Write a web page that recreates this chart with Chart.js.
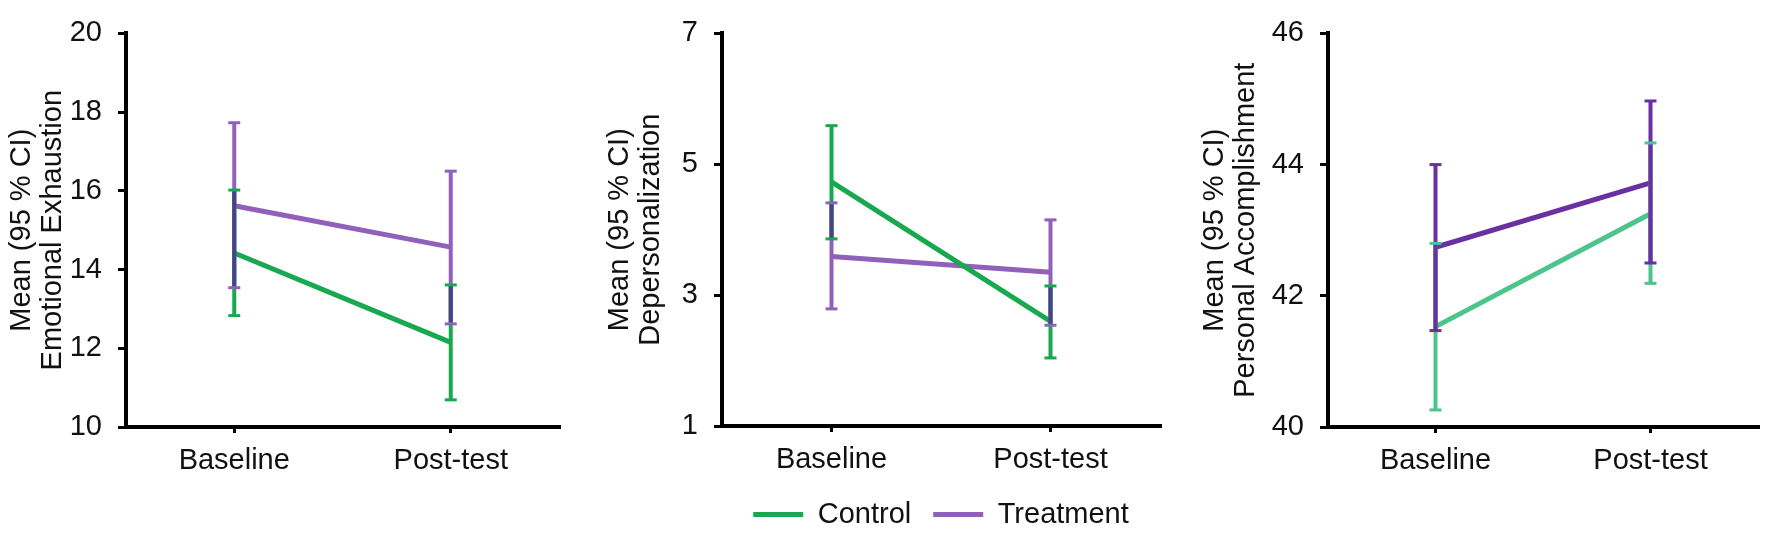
<!DOCTYPE html>
<html>
<head>
<meta charset="utf-8">
<script src="https://cdn.jsdelivr.net/npm/chart.js@4.4.1/dist/chart.umd.min.js"></script>
<style>
  body { margin: 0; background: #fff; }
  .panel { position: absolute; top: 0; height: 539px; }
</style>
</head>
<body>
<div class="panel" style="left:0px;width:580px"><canvas id="ee"></canvas></div>
<div class="panel" style="left:600px;width:580px"><canvas id="dp"></canvas></div>
<div class="panel" style="left:1180px;width:592px"><canvas id="pa"></canvas></div>
<script>
const categories = ['Baseline', 'Post-test'];
const seriesNames = ['Control', 'Treatment'];

// Emotional Exhaustion
const eeControl = [14.42, 12.15];
const eeControlLow = [12.83, 10.69];
const eeControlHigh = [16.02, 13.61];
const eeTreatment = [15.62, 14.57];
const eeTreatmentLow = [13.54, 12.62];
const eeTreatmentHigh = [17.73, 16.50];
const eeTicks = [10, 12, 14, 16, 18, 20];

// Depersonalization
const dpControl = [4.73, 2.60];
const dpControlLow = [3.86, 2.04];
const dpControlHigh = [5.59, 3.14];
const dpTreatment = [3.59, 3.35];
const dpTreatmentLow = [2.79, 2.54];
const dpTreatmentHigh = [4.41, 4.15];
const dpTicks = [1, 3, 5, 7];

// Personal Accomplishment
const paControl = [41.53, 43.25];
const paControlLow = [40.26, 42.19];
const paControlHigh = [42.80, 44.33];
const paTreatment = [42.74, 43.72];
const paTreatmentLow = [41.47, 42.50];
const paTreatmentHigh = [44.00, 44.97];
const paTicks = [40, 42, 44, 46];

Chart.defaults.font.family = '"Liberation Sans", Arial, sans-serif';
Chart.defaults.color = '#111';

// draws the 95% CI whiskers from the dataset low/high arrays
const errorBars = {
  id: 'errorBars',
  afterDatasetsDraw(chart, args, opts) {
    const ctx = chart.ctx;
    const y = chart.scales.y;
    const sets = chart.data.datasets;
    ctx.save();
    ctx.lineCap = 'butt';
    for (let i = sets.length - 1; i >= 0; i--) {
      const ds = sets[i];
      chart.getDatasetMeta(i).data.forEach((pt, j) => {
        ctx.strokeStyle = ds.borderColor;
        ctx.lineWidth = 4;
        ctx.beginPath();
        ctx.moveTo(pt.x, y.getPixelForValue(ds.high[j]));
        ctx.lineTo(pt.x, y.getPixelForValue(ds.low[j]));
        ctx.stroke();
      });
    }
    // part where both intervals overlap
    chart.getDatasetMeta(0).data.forEach((pt, j) => {
      const lo = Math.max(...sets.map(d => d.low[j]));
      const hi = Math.min(...sets.map(d => d.high[j]));
      if (hi > lo) {
        ctx.strokeStyle = opts.overlap;
        ctx.lineWidth = 4;
        ctx.beginPath();
        ctx.moveTo(pt.x, y.getPixelForValue(hi));
        ctx.lineTo(pt.x, y.getPixelForValue(lo));
        ctx.stroke();
      }
    });
    for (let i = sets.length - 1; i >= 0; i--) {
      const ds = sets[i];
      chart.getDatasetMeta(i).data.forEach((pt, j) => {
        ctx.strokeStyle = ds.borderColor;
        ctx.lineWidth = 3;
        [ds.high[j], ds.low[j]].forEach(v => {
          const py = y.getPixelForValue(v);
          ctx.beginPath();
          ctx.moveTo(pt.x - 6, py);
          ctx.lineTo(pt.x + 6, py);
          ctx.stroke();
        });
      });
    }
    ctx.restore();
  }
};

function makePanel(id, p) {
  return new Chart(document.getElementById(id), {
    type: 'line',
    data: {
      labels: categories,
      datasets: [
        { label: seriesNames[0], data: p.control, low: p.controlLow, high: p.controlHigh,
          borderColor: p.colors[0], backgroundColor: p.colors[0], borderWidth: 5, pointRadius: 0 },
        { label: seriesNames[1], data: p.treatment, low: p.treatmentLow, high: p.treatmentHigh,
          borderColor: p.colors[1], backgroundColor: p.colors[1], borderWidth: 5, pointRadius: 0 }
      ]
    },
    options: {
      responsive: true,
      maintainAspectRatio: false,
      animation: false,
      layout: { padding: { top: 24, right: p.right, left: 0, bottom: 0 } },
      plugins: {
        tooltip: { enabled: false },
        errorBars: { overlap: p.overlap },
        legend: {
          display: !!p.legend,
          position: 'bottom',
          fullSize: false,
          labels: {
            usePointStyle: true,
            pointStyle: 'line',
            pointStyleWidth: 50,
            padding: 22,
            font: { size: 29 },
            color: '#111'
          }
        }
      },
      scales: {
        x: {
          offset: true,
          grid: { drawOnChartArea: false, drawTicks: true, tickLength: 6, lineWidth: 3, color: '#000', offset: false },
          border: { display: true, color: '#000', width: 4 },
          ticks: { font: { size: 29 }, padding: 11, color: '#111' },
          afterFit(scale) { scale.height = p.xHeight; }
        },
        y: {
          min: p.ticks[0],
          max: p.ticks[p.ticks.length - 1],
          afterBuildTicks(scale) { scale.ticks = p.ticks.map(v => ({ value: v })); },
          grid: { drawOnChartArea: false, drawTicks: true, tickLength: 8, lineWidth: 3, color: '#000' },
          border: { display: true, color: '#000', width: 4 },
          ticks: { font: { size: 29 }, padding: 16, color: '#111' },
          title: {
            display: true,
            text: ['Mean (95 % CI)', p.title],
            font: { size: 29, lineHeight: 1.05 },
            color: '#111',
            padding: { top: p.titlePad, bottom: 0 }
          },
          afterFit(scale) { scale.width = p.yWidth; }
        }
      }
    },
    plugins: [errorBars]
  });
}

makePanel('ee', {
  control: eeControl, controlLow: eeControlLow, controlHigh: eeControlHigh,
  treatment: eeTreatment, treatmentLow: eeTreatmentLow, treatmentHigh: eeTreatmentHigh,
  ticks: eeTicks, title: 'Emotional Exhaustion',
  colors: ['#18a84f', '#9160bb'], overlap: '#4a4288',
  yWidth: 126, right: 21, titlePad: 7, xHeight: 112
});

makePanel('dp', {
  control: dpControl, controlLow: dpControlLow, controlHigh: dpControlHigh,
  treatment: dpTreatment, treatmentLow: dpTreatmentLow, treatmentHigh: dpTreatmentHigh,
  ticks: dpTicks, title: 'Depersonalization',
  colors: ['#18a84f', '#9160bb'], overlap: '#4a4288',
  yWidth: 122, right: 20, titlePad: 5, xHeight: 52, legend: true
});

makePanel('pa', {
  control: paControl, controlLow: paControlLow, controlHigh: paControlHigh,
  treatment: paTreatment, treatmentLow: paTreatmentLow, treatmentHigh: paTreatmentHigh,
  ticks: paTicks, title: 'Personal Accomplishment',
  colors: ['#4cc48c', '#6a2fa0'], overlap: '#6a2fa0',
  yWidth: 148, right: 14, titlePad: 20, xHeight: 112
});
</script>
</body>
</html>
